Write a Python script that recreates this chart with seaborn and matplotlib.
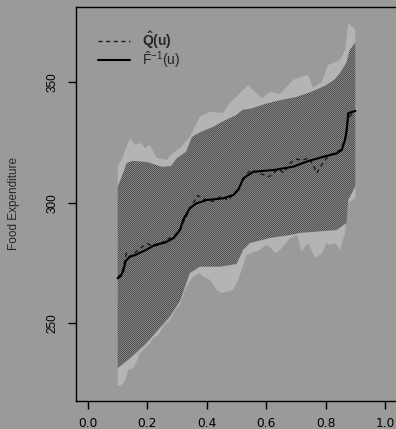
import numpy as np
import pandas as pd
import matplotlib
matplotlib.use("Agg")
import matplotlib.pyplot as plt
import seaborn as sns

# Outer (pointwise) band
outer_u = [0.100, 0.118, 0.136, 0.142, 0.158, 0.180, 0.191, 0.209, 0.231, 0.265,
           0.286, 0.310, 0.343, 0.377, 0.411, 0.455, 0.478, 0.512, 0.539, 0.579,
           0.586, 0.613, 0.646, 0.690, 0.714, 0.741, 0.758, 0.787, 0.808, 0.848,
           0.865, 0.876, 0.900]
outer_hi = [314.9, 319.0, 325.2, 326.7, 323.9, 324.7, 322.6, 323.9, 318.5, 317.7,
            320.6, 322.6, 327.3, 335.6, 337.7, 337.1, 341.3, 345.4, 348.7, 343.9,
            343.3, 345.8, 345.0, 350.8, 352.0, 352.9, 347.5, 350.0, 357.0, 359.0,
            363.2, 374.4, 371.5]
outer_lo_u = [0.100, 0.112, 0.124, 0.136, 0.153, 0.169, 0.175, 0.209, 0.219, 0.237,
              0.253, 0.276, 0.299, 0.310, 0.332, 0.354, 0.377, 0.387, 0.411, 0.433,
              0.450, 0.489, 0.506, 0.534, 0.578, 0.600, 0.613, 0.630, 0.646, 0.680,
              0.703, 0.720, 0.731, 0.742, 0.764, 0.787, 0.803, 0.815, 0.832, 0.848,
              0.865, 0.876, 0.900]
outer_lo = [224.1, 224.5, 225.9, 230.8, 231.5, 235.6, 237.7, 241.8, 243.9, 245.2,
            248.7, 251.4, 256.4, 258.0, 265.2, 269.4, 270.8, 269.4, 268.0, 263.9,
            262.5, 263.9, 268.0, 278.4, 280.4, 282.5, 281.8, 279.0, 280.4, 285.3,
            286.6, 279.7, 281.8, 283.2, 277.0, 279.0, 283.2, 282.5, 283.2, 280.4,
            287.3, 299.9, 302.0]

# Inner (uniform) band
inner_hi_u = [0.10, 0.12, 0.13, 0.15, 0.20, 0.25, 0.28, 0.30, 0.33, 0.35, 0.38,
              0.42, 0.45, 0.50, 0.52, 0.55, 0.60, 0.65, 0.70, 0.75, 0.80, 0.83,
              0.85, 0.87, 0.88, 0.90]
inner_hi = [306.5, 312.7, 316.4, 317.3, 316.8, 314.8, 315.2, 318.5, 321.0, 327.2,
            329.3, 331.3, 333.4, 336.3, 338.4, 339.0, 341.0, 342.5, 343.7, 345.8,
            348.5, 351.0, 354.0, 358.0, 363.0, 366.5]
inner_lo_u = [0.100, 0.142, 0.197, 0.231, 0.276, 0.310, 0.343, 0.377, 0.444, 0.500,
              0.522, 0.545, 0.613, 0.680, 0.714, 0.837, 0.870, 0.876, 0.900]
inner_lo = [231.5, 235.6, 241.8, 246.6, 252.8, 259.3, 270.9, 273.5, 273.5, 274.6,
            280.4, 283.3, 285.4, 286.6, 287.5, 288.7, 291.6, 301.1, 306.9]

# Empirical quantile function
emp_u = [0.100, 0.110, 0.118, 0.128, 0.140, 0.160, 0.195, 0.225, 0.260, 0.288,
         0.310, 0.320, 0.343, 0.365, 0.400, 0.455, 0.490, 0.506, 0.523, 0.557,
         0.624, 0.691, 0.736, 0.792, 0.837, 0.854, 0.865, 0.871, 0.876, 0.900]
emp_q = [268.7, 269.5, 271.5, 276.0, 277.5, 278.4, 280.4, 282.5, 283.5, 285.3,
         288.7, 292.8, 297.7, 299.7, 301.1, 301.8, 303.2, 305.3, 310.1, 312.8,
         313.5, 314.9, 317.0, 319.0, 320.4, 321.8, 325.9, 330.1, 337.0, 338.0]

# Smoothed quantile estimate
est_u = [0.100, 0.115, 0.130, 0.140, 0.160, 0.180, 0.200, 0.220, 0.240, 0.260,
         0.290, 0.310, 0.330, 0.350, 0.370, 0.390, 0.420, 0.450, 0.470, 0.500,
         0.515, 0.535, 0.550, 0.580, 0.610, 0.640, 0.660, 0.680, 0.700, 0.720,
         0.745, 0.760, 0.770, 0.790, 0.810, 0.830, 0.850, 0.865, 0.875, 0.900]
est_q = [269.0, 271.0, 279.2, 277.6, 279.5, 281.5, 283.0, 282.0, 282.5, 284.5,
         286.0, 289.0, 294.0, 299.0, 303.0, 301.5, 300.5, 302.8, 301.0, 305.0,
         307.5, 312.0, 313.5, 312.0, 310.8, 313.8, 312.4, 316.3, 318.0, 317.7,
         318.4, 315.0, 312.2, 316.3, 319.5, 320.5, 322.0, 326.0, 335.0, 338.0]

x_ticks = [0.0, 0.2, 0.4, 0.6, 0.8, 1.0]
y_ticks = [250, 300, 350]

BG = "#9a9a9a"
sns.set_theme(style="ticks", rc={
    "figure.facecolor": BG, "axes.facecolor": BG, "savefig.facecolor": BG,
    "axes.edgecolor": "black", "axes.linewidth": 1.0,
    "hatch.linewidth": 0.55, "hatch.color": "#333333",
})
plt.rcParams["font.family"] = ["Liberation Sans", "DejaVu Sans"]
plt.rcParams["mathtext.fontset"] = "custom"
plt.rcParams["mathtext.rm"] = "Liberation Sans"
plt.rcParams["mathtext.it"] = "Liberation Sans"
plt.rcParams["mathtext.bf"] = "Liberation Sans:bold"

fig = plt.figure(figsize=(3.96, 4.29), dpi=100)
ax = fig.add_axes([76 / 396, 28.5 / 429, 321 / 396, 393.5 / 429])

# outer band: light grey polygon
grid = np.linspace(0.1, 0.9, 801)
o_hi = np.interp(grid, outer_u, outer_hi)
o_lo = np.interp(grid, outer_lo_u, outer_lo)
ax.fill_between(grid, o_lo, o_hi, facecolor="#b4b4b4", edgecolor="none", lw=0)

# inner band: dense diagonal shading
i_hi = np.interp(grid, inner_hi_u, inner_hi)
i_lo = np.interp(grid, inner_lo_u, inner_lo)
ax.fill_between(grid, i_lo, i_hi, facecolor="#a8a8a8", edgecolor="#333333",
                hatch="/" * 16, lw=0)

df_emp = pd.DataFrame({"u": emp_u, "q": emp_q})
df_est = pd.DataFrame({"u": est_u, "q": est_q})
sns.lineplot(data=df_est, x="u", y="q", ax=ax, color="#1a1a1a", lw=1.0,
             linestyle=(0, (3, 2.5)), label=r"$\mathbf{\hat{Q}(u)}$")
sns.lineplot(data=df_emp, x="u", y="q", ax=ax, color="black", lw=1.5,
             label=r"$\hat{F}^{-1}\mathrm{(u)}$")

ax.set_xlim(-0.04, 1.04)
ax.set_ylim(218.1, 381.0)
ax.set_xticks(x_ticks)
ax.set_xticklabels([f"{t:.1f}" for t in x_ticks], family="DejaVu Sans",
                   fontsize=8.8)
ax.set_yticks(y_ticks)
ax.set_yticklabels([str(t) for t in y_ticks], rotation=90, va="center",
                   fontsize=8.5)
ax.tick_params(axis="both", length=5.5, width=1, colors="black")
ax.tick_params(axis="x", pad=6.5)
ax.tick_params(axis="y", pad=7)
ax.set_xlabel("")
ax.set_ylabel("Food Expenditure", fontsize=8.5, labelpad=19)
for s in ax.spines.values():
    s.set_visible(True)

leg = ax.legend(loc="upper left", bbox_to_anchor=(98 / 396, 1 - 30 / 429),
                bbox_transform=fig.transFigure, frameon=False, fontsize=10,
                handlelength=2.3, handletextpad=0.9, labelspacing=-0.15,
                borderpad=0, borderaxespad=0)

fig.savefig("out.png", dpi=100, facecolor=BG)
